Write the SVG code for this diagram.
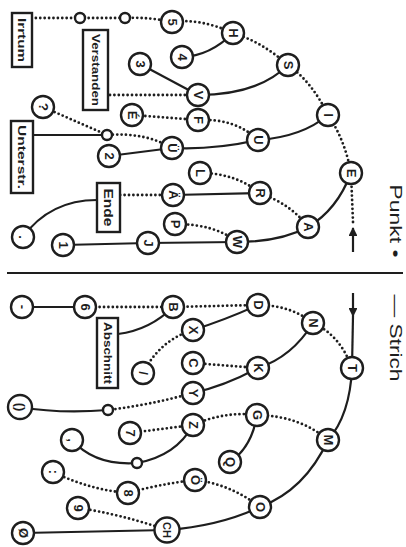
<svg xmlns="http://www.w3.org/2000/svg" width="406" height="547" viewBox="0 0 406 547">
<defs>
<style>
.bg{fill:#fff}
.n circle{fill:#fff;stroke:#1e1e1e;stroke-width:2.4}
.n rect{fill:#fff;stroke:#1e1e1e;stroke-width:2.4}
.n text{font-family:"Liberation Sans",Arial,sans-serif;font-size:13px;font-weight:bold;fill:#1e1e1e;text-anchor:middle;dominant-baseline:central}
.n text.b{font-size:11px}
.s{fill:none;stroke:#1e1e1e;stroke-width:2.2}
.d{fill:none;stroke:#1e1e1e;stroke-width:2.8;stroke-dasharray:0 4.4;stroke-linecap:round}
.lbl{font-family:"Liberation Sans",Arial,sans-serif;font-size:17px;fill:#1e1e1e;text-anchor:middle;dominant-baseline:central}
</style>
<marker id="ah" viewBox="0 0 10 10" refX="9" refY="5" markerWidth="4.5" markerHeight="4" markerUnits="strokeWidth" orient="auto">
<path d="M0,0 L10,5 L0,10 Z" fill="#1e1e1e"/>
</marker>
</defs>
<rect class="bg" width="406" height="547"/>
<g id="connectors">
<line class="s" x1="7" y1="273" x2="403" y2="273"/>
<path class="s" d="M353,252 L353,228" marker-end="url(#ah)"/>
<path class="d" d="M353,222 L351,173"/>
<path class="d" d="M351,173 Q345,140 328,115"/>
<path class="d" d="M328,115 Q312,82 288,65"/>
<path class="d" d="M288,65 Q262,42 233,33"/>
<path class="d" d="M233,33 Q200,18 172,22"/>
<path class="d" d="M172,22 Q150,17 125,18 L80,18 L32,18"/>
<path class="d" d="M198,95 L108,95"/>
<path class="d" d="M258,140 Q235,118 198,120"/>
<path class="d" d="M198,120 L132,115"/>
<path class="d" d="M172,148 Q145,132 107,135"/>
<path class="d" d="M107,135 L43,107"/>
<path class="d" d="M260,193 Q235,173 200,173"/>
<path class="d" d="M308,227 Q292,205 260,193"/>
<path class="d" d="M173,195 L120,195"/>
<path class="d" d="M237,242 Q215,224 175,224"/>
<path class="s" d="M351,173 Q337,210 308,227"/>
<path class="s" d="M308,227 Q280,242 237,242"/>
<path class="s" d="M237,242 L148,243 L63,245"/>
<path class="s" d="M260,193 L173,195"/>
<path class="s" d="M97,200 Q50,200 23,237"/>
<path class="s" d="M328,115 Q302,137 258,140"/>
<path class="s" d="M258,140 Q215,150 172,148"/>
<path class="s" d="M172,148 L109,156"/>
<path class="s" d="M107,135 L33,135"/>
<path class="s" d="M288,65 Q258,95 198,95"/>
<path class="s" d="M198,95 L140,64"/>
<path class="s" d="M233,33 Q210,56 182,57"/>
<path class="s" d="M353,293 L353,316" marker-end="url(#ah)"/>
<path class="s" d="M353,316 L352,368"/>
<path class="d" d="M352,368 Q340,335 313,323"/>
<path class="d" d="M313,323 Q290,305 258,305"/>
<path class="d" d="M258,305 L173,307 L85,307"/>
<path class="d" d="M193,330 Q160,340 143,373"/>
<path class="d" d="M258,368 L193,363"/>
<path class="d" d="M193,393 Q150,405 108,410"/>
<path class="d" d="M193,425 L130,433"/>
<path class="d" d="M257,415 Q225,411 193,425"/>
<path class="d" d="M328,440 Q300,416 257,415"/>
<path class="d" d="M260,507 Q230,484 195,480"/>
<path class="d" d="M195,480 Q160,484 128,493"/>
<path class="d" d="M128,493 Q90,490 53,472"/>
<path class="d" d="M167,530 Q120,514 78,508"/>
<path class="s" d="M352,368 Q350,415 328,440"/>
<path class="s" d="M328,440 Q305,490 260,507"/>
<path class="s" d="M260,507 Q220,526 167,530"/>
<path class="s" d="M167,530 L23,533"/>
<path class="s" d="M313,323 Q292,357 258,368"/>
<path class="s" d="M258,305 Q225,320 193,330"/>
<path class="s" d="M258,368 Q225,386 193,393"/>
<path class="s" d="M173,307 Q150,330 118,334"/>
<path class="s" d="M85,307 L22,307"/>
<path class="s" d="M108,410 Q60,414 20,407"/>
<path class="s" d="M257,415 Q252,447 230,462"/>
<path class="s" d="M193,425 Q176,456 137,463"/>
<path class="s" d="M137,463 Q95,466 72,440"/>
</g>
<g id="nodes">
<g id="n-E" class="n"><circle cx="351" cy="173" r="11"/><text x="351" y="173" transform="rotate(90 351 173)">E</text></g>
<g id="n-I" class="n"><circle cx="328" cy="115" r="11"/><text x="328" y="115" transform="rotate(90 328 115)">I</text></g>
<g id="n-S" class="n"><circle cx="288" cy="65" r="11"/><text x="288" y="65" transform="rotate(90 288 65)">S</text></g>
<g id="n-H" class="n"><circle cx="233" cy="33" r="11"/><text x="233" y="33" transform="rotate(90 233 33)">H</text></g>
<g id="n-5" class="n"><circle cx="172" cy="22" r="11"/><text x="172" y="22" transform="rotate(90 172 22)">5</text></g>
<g id="n-s1" class="n"><circle cx="125" cy="18" r="5"/></g>
<g id="n-s2" class="n"><circle cx="80" cy="18" r="5"/></g>
<g id="n-irrtum" class="n"><rect x="12" y="13" width="20" height="54"/><text class="b" x="22" y="40" transform="rotate(90 22 40)" textLength="44" lengthAdjust="spacingAndGlyphs">Irrtum</text></g>
<g id="n-4" class="n"><circle cx="182" cy="57" r="11"/><text x="182" y="57" transform="rotate(90 182 57)">4</text></g>
<g id="n-V" class="n"><circle cx="198" cy="95" r="11"/><text x="198" y="95" transform="rotate(90 198 95)">V</text></g>
<g id="n-3" class="n"><circle cx="140" cy="64" r="11"/><text x="140" y="64" transform="rotate(90 140 64)">3</text></g>
<g id="n-verstanden" class="n"><rect x="83" y="30" width="25" height="80"/><text class="b" x="95.5" y="70" transform="rotate(90 95.5 70)" textLength="72" lengthAdjust="spacingAndGlyphs">Verstanden</text></g>
<g id="n-U" class="n"><circle cx="258" cy="140" r="11"/><text x="258" y="140" transform="rotate(90 258 140)">U</text></g>
<g id="n-F" class="n"><circle cx="198" cy="120" r="11"/><text x="198" y="120" transform="rotate(90 198 120)">F</text></g>
<g id="n-Eacute" class="n"><circle cx="132" cy="115" r="11"/><text x="132" y="115" transform="rotate(90 132 115)">É</text></g>
<g id="n-Ue" class="n"><circle cx="172" cy="148" r="11"/><text x="172" y="148" transform="rotate(90 172 148)">Ü</text></g>
<g id="n-s3" class="n"><circle cx="107" cy="135" r="5"/></g>
<g id="n-q" class="n"><circle cx="43" cy="107" r="11"/><text x="43" y="107" transform="rotate(90 43 107)">?</text></g>
<g id="n-unterstr" class="n"><rect x="11" y="121" width="22" height="72"/><text class="b" x="22" y="157" transform="rotate(90 22 157)" textLength="64" lengthAdjust="spacingAndGlyphs">Unterstr.</text></g>
<g id="n-2" class="n"><circle cx="109" cy="156" r="11"/><text x="109" y="156" transform="rotate(90 109 156)">2</text></g>
<g id="n-A" class="n"><circle cx="308" cy="227" r="11"/><text x="308" y="227" transform="rotate(90 308 227)">A</text></g>
<g id="n-R" class="n"><circle cx="260" cy="193" r="11"/><text x="260" y="193" transform="rotate(90 260 193)">R</text></g>
<g id="n-L" class="n"><circle cx="200" cy="173" r="11"/><text x="200" y="173" transform="rotate(90 200 173)">L</text></g>
<g id="n-Ae" class="n"><circle cx="173" cy="195" r="11"/><text x="173" y="195" transform="rotate(90 173 195)">Ä</text></g>
<g id="n-ende" class="n"><rect x="97" y="183" width="23" height="49"/><text x="108.5" y="207.5" transform="rotate(90 108.5 207.5)" textLength="38" lengthAdjust="spacingAndGlyphs">Ende</text></g>
<g id="n-period" class="n"><circle cx="23" cy="237" r="11"/><text x="23" y="237" transform="rotate(90 23 237)">.</text></g>
<g id="n-W" class="n"><circle cx="237" cy="242" r="11"/><text x="237" y="242" transform="rotate(90 237 242)">W</text></g>
<g id="n-P" class="n"><circle cx="175" cy="224" r="11"/><text x="175" y="224" transform="rotate(90 175 224)">P</text></g>
<g id="n-J" class="n"><circle cx="148" cy="243" r="11"/><text x="148" y="243" transform="rotate(90 148 243)">J</text></g>
<g id="n-1" class="n"><circle cx="63" cy="245" r="11"/><text x="63" y="245" transform="rotate(90 63 245)">1</text></g>
<g id="n-T" class="n"><circle cx="352" cy="368" r="11"/><text x="352" y="368" transform="rotate(90 352 368)">T</text></g>
<g id="n-N" class="n"><circle cx="313" cy="323" r="11"/><text x="313" y="323" transform="rotate(90 313 323)">N</text></g>
<g id="n-D" class="n"><circle cx="258" cy="305" r="11"/><text x="258" y="305" transform="rotate(90 258 305)">D</text></g>
<g id="n-B" class="n"><circle cx="173" cy="307" r="11"/><text x="173" y="307" transform="rotate(90 173 307)">B</text></g>
<g id="n-6" class="n"><circle cx="85" cy="307" r="11"/><text x="85" y="307" transform="rotate(90 85 307)">6</text></g>
<g id="n-minus" class="n"><circle cx="22" cy="307" r="11"/><text x="22" y="307" transform="rotate(90 22 307)">-</text></g>
<g id="n-abschnitt" class="n"><rect x="97" y="318" width="21" height="70"/><text class="b" x="107.5" y="353" transform="rotate(90 107.5 353)" textLength="62" lengthAdjust="spacingAndGlyphs">Abschnitt</text></g>
<g id="n-X" class="n"><circle cx="193" cy="330" r="11"/><text x="193" y="330" transform="rotate(90 193 330)">X</text></g>
<g id="n-slash" class="n"><circle cx="143" cy="373" r="11"/><text x="143" y="373" transform="rotate(90 143 373)">/</text></g>
<g id="n-K" class="n"><circle cx="258" cy="368" r="11"/><text x="258" y="368" transform="rotate(90 258 368)">K</text></g>
<g id="n-C" class="n"><circle cx="193" cy="363" r="11"/><text x="193" y="363" transform="rotate(90 193 363)">C</text></g>
<g id="n-Y" class="n"><circle cx="193" cy="393" r="11"/><text x="193" y="393" transform="rotate(90 193 393)">Y</text></g>
<g id="n-s4" class="n"><circle cx="108" cy="410" r="5"/></g>
<g id="n-paren" class="n"><circle cx="20" cy="407" r="12"/><text x="20" y="407" transform="rotate(90 20 407)">()</text></g>
<g id="n-M" class="n"><circle cx="328" cy="440" r="11"/><text x="328" y="440" transform="rotate(90 328 440)">M</text></g>
<g id="n-G" class="n"><circle cx="257" cy="415" r="11"/><text x="257" y="415" transform="rotate(90 257 415)">G</text></g>
<g id="n-Z" class="n"><circle cx="193" cy="425" r="11"/><text x="193" y="425" transform="rotate(90 193 425)">Z</text></g>
<g id="n-7" class="n"><circle cx="130" cy="433" r="11"/><text x="130" y="433" transform="rotate(90 130 433)">7</text></g>
<g id="n-s5" class="n"><circle cx="137" cy="463" r="5"/></g>
<g id="n-comma" class="n"><circle cx="72" cy="440" r="11"/><text x="72" y="440" transform="rotate(90 72 440)">,</text></g>
<g id="n-Q" class="n"><circle cx="230" cy="462" r="11"/><text x="230" y="462" transform="rotate(90 230 462)">Q</text></g>
<g id="n-O" class="n"><circle cx="260" cy="507" r="11"/><text x="260" y="507" transform="rotate(90 260 507)">O</text></g>
<g id="n-Oe" class="n"><circle cx="195" cy="480" r="11"/><text x="195" y="480" transform="rotate(90 195 480)">Ö</text></g>
<g id="n-8" class="n"><circle cx="128" cy="493" r="11"/><text x="128" y="493" transform="rotate(90 128 493)">8</text></g>
<g id="n-colon" class="n"><circle cx="53" cy="472" r="11"/><text x="53" y="472" transform="rotate(90 53 472)">:</text></g>
<g id="n-CH" class="n"><circle cx="167" cy="530" r="12.5"/><text x="167" y="530" transform="rotate(90 167 530)" style="font-size:11px">CH</text></g>
<g id="n-9" class="n"><circle cx="78" cy="508" r="11"/><text x="78" y="508" transform="rotate(90 78 508)">9</text></g>
<g id="n-0" class="n"><circle cx="23" cy="533" r="11"/><text x="23" y="533" transform="rotate(90 23 533)">Ø</text></g>
</g>
<g id="legend">
<text class="lbl" x="395" y="221" transform="rotate(90 395 221)" textLength="73" lengthAdjust="spacingAndGlyphs">Punkt •</text>
<text class="lbl" x="395" y="338" transform="rotate(90 395 338)" textLength="87" lengthAdjust="spacingAndGlyphs">— Strich</text>
</g>
</svg>
